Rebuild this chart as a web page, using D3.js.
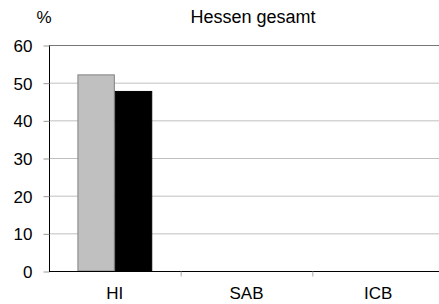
<!DOCTYPE html>
<html>
<head>
<meta charset="utf-8">
<style>
  body { margin: 0; background: #fff; }
  svg { font-family: "Liberation Sans", Arial, sans-serif; }
</style>
</head>
<body>
<svg id="chart" width="439" height="304"></svg>
<script src="https://d3js.org/d3.v7.min.js"></script>
<script>
// Data
var categories = ["HI", "SAB", "ICB"];
var seriesA = [52.2, 0, 0];   // grey bars
var seriesB = [47.8, 0, 0];   // black bars
var yTicks = [0, 10, 20, 30, 40, 50, 60];

var svg = d3.select("#chart");
var plotL = 49, plotR = 444, plotT = 45, plotB = 271;

var x = d3.scaleBand().domain(categories).range([plotL, plotR]);
var inner = d3.scaleBand().domain([0, 1]).range([0, x.bandwidth()])
    .paddingInner(0).paddingOuter(0.76);
var y = d3.scaleLinear().domain([0, 60]).range([plotB, plotT]);

// Gridlines
svg.append("g").selectAll("line")
    .data(yTicks.filter(function(d) { return d > 0; }))
    .enter().append("line")
    .attr("x1", plotL).attr("x2", 439)
    .attr("y1", function(d) { return y(d) + 0.5; })
    .attr("y2", function(d) { return y(d) + 0.5; })
    .attr("stroke", function(d) { return d === 60 ? "#777" : "#c0c0c0"; })
    .attr("stroke-width", 1);

// Bars
var series = [
  { vals: seriesA, fill: "#c0c0c0", stroke: "#808080" },
  { vals: seriesB, fill: "#000", stroke: "#000" }
];
series.forEach(function(s, si) {
  svg.append("g").selectAll("rect")
      .data(categories.map(function(c, i) { return { c: c, v: s.vals[i] }; })
            .filter(function(d) { return d.v > 0; }))
      .enter().append("rect")
      .attr("x", function(d) { return x(d.c) + inner(si) + 0.5; })
      .attr("y", function(d) { return y(d.v) + 0.5; })
      .attr("width", inner.bandwidth() - 1)
      .attr("height", function(d) { return y(0) - y(d.v) - 0.5; })
      .attr("fill", s.fill)
      .attr("stroke", s.stroke)
      .attr("stroke-width", 1);
});

// Y axis
var yAxis = svg.append("g")
    .attr("transform", "translate(" + (plotL + 0.5) + ",0.5)")
    .call(d3.axisLeft(y).tickValues(yTicks).tickSize(6).tickPadding(11));
yAxis.select(".domain").attr("d", "M0," + plotT + "V" + plotB).attr("stroke", "#000");
yAxis.selectAll(".tick line").attr("stroke", "#999");
yAxis.selectAll("text")
    .attr("font-size", 17).attr("font-family", "Liberation Sans, Arial, sans-serif")
    .attr("fill", "#000").attr("dy", "0.36em");

// X axis
var xAxis = svg.append("g")
    .attr("transform", "translate(0," + (plotB + 0.5) + ")");
xAxis.append("line")
    .attr("x1", plotL).attr("x2", 439)
    .attr("stroke", "#000");
xAxis.selectAll(".sep")
    .data(categories.slice(1))
    .enter().append("line")
    .attr("class", "sep")
    .attr("x1", function(d) { return x(d) + 0.5; })
    .attr("x2", function(d) { return x(d) + 0.5; })
    .attr("y1", 0).attr("y2", 5)
    .attr("stroke", "#aaa");
xAxis.selectAll(".lbl")
    .data(categories)
    .enter().append("text")
    .attr("class", "lbl")
    .attr("x", function(d) { return x(d) + x.bandwidth() / 2; })
    .attr("y", 27.5)
    .attr("text-anchor", "middle")
    .attr("font-size", 17)
    .text(function(d) { return d; });

// Title and unit
svg.append("text")
    .attr("x", 253).attr("y", 23)
    .attr("text-anchor", "middle")
    .attr("font-size", 18)
    .text("Hessen gesamt");
svg.append("text")
    .attr("x", 44).attr("y", 23)
    .attr("text-anchor", "middle")
    .attr("font-size", 17)
    .text("%");
</script>
</body>
</html>
